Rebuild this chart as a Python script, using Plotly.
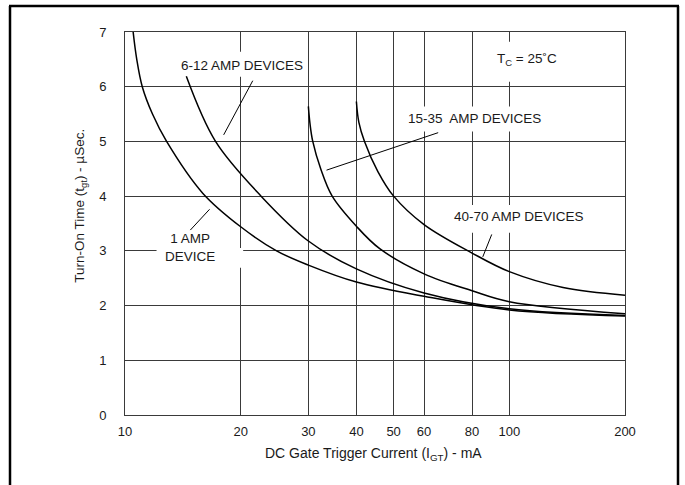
import numpy as np
import plotly.graph_objects as go

# ---- data ----
x_1amp = [10.5, 10.73, 11.09, 11.79, 12.83, 15.95, 20, 24.8, 30, 40, 60, 100, 200]
y_1amp = [7.0, 6.5, 6.0, 5.5, 5.0, 4.05, 3.44, 3.0, 2.74, 2.43, 2.17, 1.92, 1.81]

x_6_12 = [14.44, 17.2, 22.6, 30, 40, 60, 100, 200]
y_6_12 = [6.19, 5.0, 4.0, 3.18, 2.67, 2.23, 1.94, 1.82]

x_15_35 = [30, 30.3, 30.8, 32.3, 34.6, 40, 46, 60, 80, 100, 200]
y_15_35 = [5.64, 5.32, 5.0, 4.5, 4.0, 3.45, 3.04, 2.58, 2.27, 2.07, 1.85]

x_40_70 = [40, 40.6, 42.0, 45.5, 50, 60, 80, 100, 138, 200]
y_40_70 = [5.73, 5.35, 5.0, 4.45, 4.0, 3.48, 2.96, 2.62, 2.33, 2.19]

x_ticks = [10, 20, 30, 40, 50, 60, 80, 100, 200]
y_ticks = [0, 1, 2, 3, 4, 5, 6, 7]

FONT = "Arial, Liberation Sans, sans-serif"
GRID = "#3a3a3a"
INK = "#1a1a1a"

fig = go.Figure()

# white label boxes that interrupt the grid (drawn before curves)
boxes = [
    (13.6, 29.4, 6.18, 6.64),
    (91.8, 135.7, 6.09, 6.82),
    (53.5, 122.5, 5.18, 5.64),
    (71.0, 158.6, 3.33, 3.84),
    (12.08, 20.3, 2.69, 3.05),
]
for x0, x1, y0, y1 in boxes:
    fig.add_trace(go.Scatter(x=[x0, x1, x1, x0, x0], y=[y0, y0, y1, y1, y0],
                             mode="lines", fill="toself", fillcolor="white",
                             line=dict(width=0, color="white"), hoverinfo="skip",
                             showlegend=False))

# curves
for xs, ys in [(x_1amp, y_1amp), (x_6_12, y_6_12), (x_15_35, y_15_35), (x_40_70, y_40_70)]:
    fig.add_trace(go.Scatter(x=xs, y=ys, mode="lines",
                             line=dict(color="black", width=1.5, shape="spline", smoothing=1.0),
                             hoverinfo="skip", showlegend=False))

# leader lines
leaders = [
    ((21.5, 18.06), (6.11, 5.12)),
    ((65.3, 33.45), (5.16, 4.475)),
    ((90.0, 85.3), (3.30, 2.89)),
    ((16.6, 14.79), (3.76, 3.38)),
]
for lx, ly in leaders:
    fig.add_trace(go.Scatter(x=list(lx), y=list(ly), mode="lines",
                             line=dict(color="black", width=1), hoverinfo="skip",
                             showlegend=False))

labels = [
    ("6-12 AMP DEVICES", 20.1, 6.38),
    ("T<sub>C</sub> = 25˚C", 111.3, 6.49),
    ("15-35  AMP DEVICES", 81.0, 5.42),
    ("40-70 AMP DEVICES", 106.0, 3.63),
    ("1 AMP<br>DEVICE", 14.8, 3.06),
]
for txt, lx, ly in labels:
    fig.add_annotation(x=np.log10(lx), y=ly, xref="x", yref="y", text=txt,
                       showarrow=False, font=dict(family=FONT, size=13.5, color=INK))

# axis titles
fig.add_annotation(x=0.497, y=-0.13, xref="paper", yref="paper",
                   text="DC Gate Trigger Current (I<sub>GT</sub>) - mA",
                   showarrow=False, font=dict(family=FONT, size=14, color=INK))
fig.add_annotation(x=-0.11, y=0.545, xref="paper", yref="paper", textangle=-90,
                   text="Turn-On Time (t<sub>gt</sub>) - µSec.",
                   showarrow=False, font=dict(family=FONT, size=13.5, color=INK))

# outer frame (open at the bottom)
frame = dict(color="black", width=2.5)
fig.add_shape(type="line", xref="paper", yref="paper", x0=-0.232, x1=1.108, y0=1.068, y1=1.068, line=frame)
fig.add_shape(type="line", xref="paper", yref="paper", x0=-0.23, x1=-0.23, y0=1.068, y1=-0.25, line=frame)
fig.add_shape(type="line", xref="paper", yref="paper", x0=1.106, x1=1.106, y0=1.068, y1=-0.25, line=frame)

fig.update_xaxes(type="log", range=[1, np.log10(200)], tickvals=x_ticks,
                 ticktext=[str(v) for v in x_ticks], showgrid=True, gridcolor=GRID,
                 gridwidth=1, showline=True, linecolor=GRID, linewidth=1, mirror=True,
                 ticks="outside", ticklen=4, tickcolor="rgba(0,0,0,0)",
                 tickfont=dict(family=FONT, size=13, color=INK), zeroline=False)
fig.update_yaxes(range=[0, 7], tickvals=y_ticks, showgrid=True, gridcolor=GRID,
                 gridwidth=1, showline=True, linecolor=GRID, linewidth=1, mirror=True,
                 ticks="outside", ticklen=15, tickcolor="rgba(0,0,0,0)",
                 tickfont=dict(family=FONT, size=13, color=INK), zeroline=False)

fig.update_layout(width=685, height=485, margin=dict(l=125, r=60, t=32, b=70),
                  plot_bgcolor="white", paper_bgcolor="white", showlegend=False)

fig.write_html("out.html", config={"displayModeBar": False},
               post_script="document.body.style.margin='0';document.body.style.overflow='hidden';")
